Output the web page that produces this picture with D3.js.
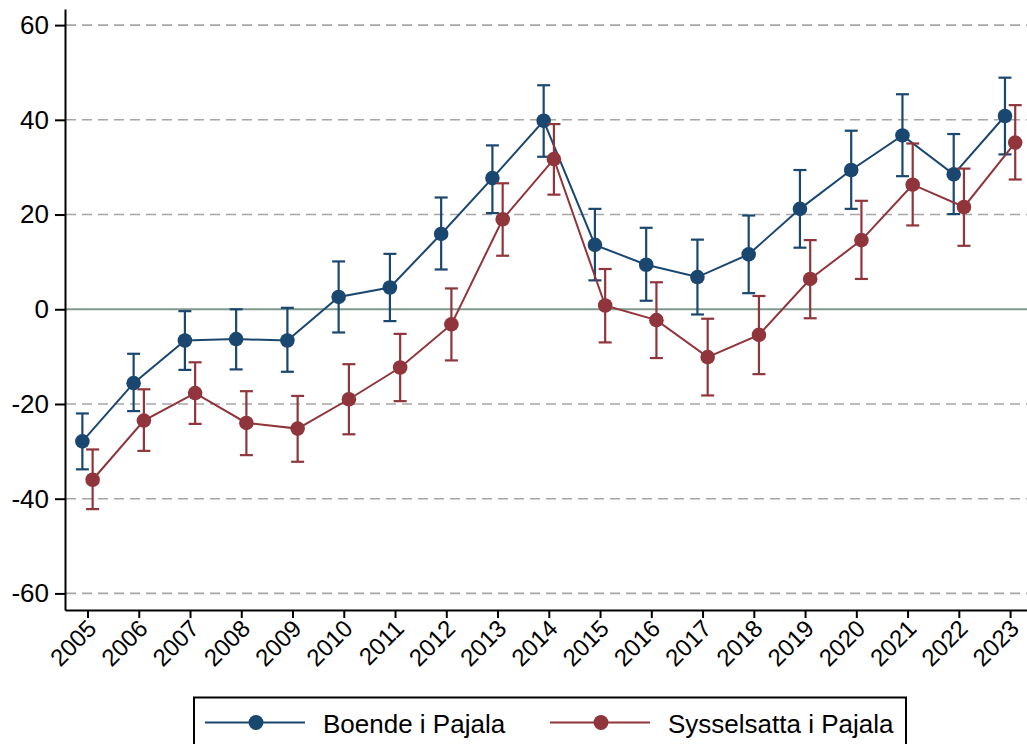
<!doctype html>
<html lang="sv">
<head>
<meta charset="utf-8">
<script src="https://d3js.org/d3.v7.min.js"></script>
<style>
  body { margin: 0; background: #fff; }
  svg { font-family: "Liberation Sans", Arial, sans-serif; }
  .grid line { stroke: #a6a6a6; stroke-width: 1.6px; stroke-dasharray: 10 6; }
  .zero { stroke: #7f9a8c; stroke-width: 2px; }
  .axis path, .axis line { stroke: #000; stroke-width: 2px; }
</style>
</head>
<body>
<svg width="1027" height="744"></svg>
<script>
const years = d3.range(2005, 2024);

// Boende i Pajala
const boende    = [-27.9,-15.6,-6.6,-6.3,-6.6, 2.6, 4.6,15.9,27.7,39.8,13.6, 9.4, 6.8,11.6,21.2,29.4,36.7,28.5,40.8];
const boendeHi  = [-22.0, -9.4,-0.4, 0.0, 0.3,10.1,11.7,23.6,34.6,47.3,21.2,17.2,14.7,19.8,29.4,37.7,45.4,37.0,48.9];
const boendeLo  = [-33.8,-21.5,-12.8,-12.7,-13.2,-4.9,-2.5, 8.4,20.3,32.2, 6.1, 1.8,-1.1, 3.4,13.0,21.2,28.1,20.1,32.7];

// Sysselsatta i Pajala
const syss      = [-36.0,-23.5,-17.7,-24.0,-25.2,-19.0,-12.3,-3.2,19.0,31.7, 0.8,-2.3,-10.1,-5.4, 6.4,14.6,26.3,21.6,35.2];
const syssHi    = [-29.6,-16.9,-11.2,-17.3,-18.3,-11.6,-5.2, 4.4,26.6,39.1, 8.5, 5.7,-2.0, 2.8,14.6,22.9,35.0,29.7,43.1];
const syssLo    = [-42.2,-29.9,-24.2,-30.8,-32.2,-26.4,-19.4,-10.8,11.3,24.2,-7.0,-10.3,-18.2,-13.7,-1.9, 6.4,17.7,13.4,27.4];

const yTicks = [-60, -40, -20, 0, 20, 40, 60];

const series = [
  { name: "Boende i Pajala", color: "#1a476f", offset: -0.1, v: boende, hi: boendeHi, lo: boendeLo },
  { name: "Sysselsatta i Pajala", color: "#90353b", offset: 0.1, v: syss, hi: syssHi, lo: syssLo }
];

const svg = d3.select("svg");
const x = d3.scaleLinear().domain([2004.561, 2023.33]).range([65, 1027]);
const y = d3.scaleLinear().domain([-63.5, 63.4]).range([610, 9]);

// grid
svg.append("g").attr("class", "grid")
  .selectAll("line").data(yTicks.filter(d => d !== 0)).join("line")
  .attr("x1", 66).attr("x2", 1027)
  .attr("y1", d => y(d)).attr("y2", d => y(d));
svg.append("line").attr("class", "zero")
  .attr("x1", 66).attr("x2", 1027).attr("y1", y(0)).attr("y2", y(0));

// axes
const yAxis = svg.append("g").attr("class", "axis")
  .attr("transform", "translate(65,0)")
  .call(d3.axisLeft(y).tickValues(yTicks).tickFormat(d => String(d)).tickSize(10).tickPadding(6).tickSizeOuter(0));
yAxis.selectAll("text").attr("font-size", 26).attr("fill", "#000").attr("font-family", "Liberation Sans, Arial, sans-serif");

const xAxis = svg.append("g").attr("class", "axis")
  .attr("transform", "translate(0,610)")
  .call(d3.axisBottom(x).tickValues(years).tickFormat(d => String(d)).tickSize(8).tickSizeOuter(0));
xAxis.selectAll("text")
  .attr("font-size", 24).attr("fill", "#000").attr("font-family", "Liberation Sans, Arial, sans-serif")
  .attr("text-anchor", "end")
  .attr("dy", "0.35em")
  .attr("transform", "translate(4,14) rotate(-45)")
  .attr("x", 0).attr("y", 0);

// series
series.forEach(s => {
  const g = svg.append("g");
  const pts = years.map((yr, i) => ({ xr: yr + s.offset, v: s.v[i], hi: s.hi[i], lo: s.lo[i] }));
  g.append("path")
    .datum(pts)
    .attr("fill", "none").attr("stroke", s.color).attr("stroke-width", 2)
    .attr("d", d3.line().x(d => x(d.xr)).y(d => y(d.v)));
  const eb = g.selectAll("g.eb").data(pts).join("g").attr("stroke", s.color).attr("stroke-width", 2.2);
  eb.append("line").attr("x1", d => x(d.xr)).attr("x2", d => x(d.xr)).attr("y1", d => y(d.hi)).attr("y2", d => y(d.lo));
  eb.append("line").attr("x1", d => x(d.xr) - 6.5).attr("x2", d => x(d.xr) + 6.5).attr("y1", d => y(d.hi)).attr("y2", d => y(d.hi));
  eb.append("line").attr("x1", d => x(d.xr) - 6.5).attr("x2", d => x(d.xr) + 6.5).attr("y1", d => y(d.lo)).attr("y2", d => y(d.lo));
  g.selectAll("circle").data(pts).join("circle")
    .attr("cx", d => x(d.xr)).attr("cy", d => y(d.v)).attr("r", 7.3)
    .attr("fill", s.color);
});

// legend
const lg = svg.append("g");
lg.append("rect").attr("x", 194).attr("y", 697.5).attr("width", 712).attr("height", 60)
  .attr("fill", "#fff").attr("stroke", "#000").attr("stroke-width", 2);
const items = [{ s: series[0], x0: 205, tx: 323 }, { s: series[1], x0: 550, tx: 668 }];
items.forEach(it => {
  lg.append("line").attr("x1", it.x0).attr("x2", it.x0 + 100).attr("y1", 722.5).attr("y2", 722.5)
    .attr("stroke", it.s.color).attr("stroke-width", 2);
  lg.append("circle").attr("cx", it.x0 + 51).attr("cy", 722.5).attr("r", 7.5).attr("fill", it.s.color);
  lg.append("text").attr("x", it.tx).attr("y", 733).attr("font-size", 26).attr("fill", "#000")
    .text(it.s.name);
});
</script>
</body>
</html>
